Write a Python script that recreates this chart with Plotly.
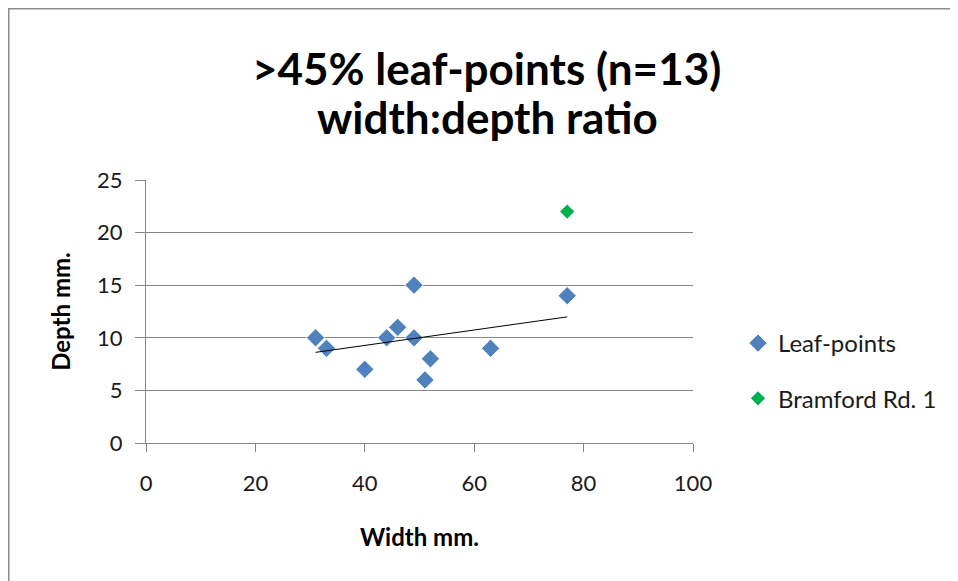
import numpy as np
import plotly.graph_objects as go

leaf_width = [31, 33, 40, 44, 46, 49, 49, 51, 52, 63, 77]
leaf_depth = [10, 9, 7, 10, 11, 15, 10, 6, 8, 9, 14]
bram_width = [77]
bram_depth = [22]
x_ticks = [0, 20, 40, 60, 80, 100]
y_ticks = [0, 5, 10, 15, 20, 25]
title_lines = [">45% leaf-points (n=13)", "width:depth ratio"]

slope, intercept = np.polyfit(leaf_width, leaf_depth, 1)
tx = [min(leaf_width), max(leaf_width)]
ty = [slope * v + intercept for v in tx]

FONT = "Lato, Open Sans, sans-serif"

fig = go.Figure()
fig.add_trace(go.Scatter(x=leaf_width, y=leaf_depth, mode="markers", name="Leaf-points",
                         legendgroup="a",
                         marker=dict(symbol="diamond", size=14, color="#4F81BD",
                                     line=dict(width=0.8, color="#ffffff"))))
fig.add_trace(go.Scatter(x=bram_width, y=bram_depth, mode="markers", name="Bramford Rd. 1",
                         legendgroup="b",
                         marker=dict(symbol="diamond", size=11, color="#00B050")))
fig.add_trace(go.Scatter(x=tx, y=ty, mode="lines", showlegend=False,
                         line=dict(color="#000000", width=1)))

W, H = 950, 573
L, T = 138, 172
x1p, y1p = 685, 435
pw, ph = x1p - L, y1p - T
R, B = W - x1p, H - y1p


def px(x):
    return (x - L) / pw


def py(y):
    return (y1p - y) / ph


fig.update_layout(
    width=W, height=H,
    margin=dict(l=L, r=R, t=T, b=B),
    paper_bgcolor="white", plot_bgcolor="white",
    font=dict(family=FONT, size=22, color="#000000"),
    showlegend=True,
    legend=dict(x=px(730), y=py(313), xanchor="left", yanchor="top",
                traceorder="grouped", tracegroupgap=21,
                font=dict(family=FONT, size=24, color="#1a1a1a"), bgcolor="rgba(0,0,0,0)"),
    xaxis=dict(range=[0, 100], tickvals=x_ticks, showgrid=False, zeroline=False,
               showline=True, linecolor="#868686", linewidth=1,
               ticks="outside", ticklen=8, tickcolor="#868686",
               ticklabelstandoff=13,
               tickfont=dict(family=FONT, size=22, color="#1a1a1a"),
               title=dict(text="<b>Width mm.</b>", standoff=33,
                          font=dict(family=FONT, size=24))),
    yaxis=dict(range=[0, 25], tickvals=y_ticks, showgrid=True, gridcolor="#868686",
               gridwidth=1, zeroline=False,
               showline=True, linecolor="#868686", linewidth=1,
               ticks="outside", ticklen=10, tickcolor="#868686",
               ticklabelstandoff=8,
               tickfont=dict(family=FONT, size=22, color="#1a1a1a"),
               title=dict(text="<b>Depth mm.</b>", standoff=19,
                          font=dict(family=FONT, size=24))),
)

fig.add_annotation(text="<b>%s</b>" % title_lines[0], xref="paper", yref="paper",
                   x=px(478), y=py(60), xanchor="center", yanchor="middle", showarrow=False,
                   font=dict(family=FONT, size=44, color="#000000"))
fig.add_annotation(text="<b>%s</b>" % title_lines[1], xref="paper", yref="paper",
                   x=px(479), y=py(109), xanchor="center", yanchor="middle", showarrow=False,
                   font=dict(family=FONT, size=44, color="#000000"))

fig.add_shape(type="line", xref="paper", yref="paper",
              x0=px(0), x1=px(0), y0=py(H + 20), y1=py(0),
              line=dict(color="#8C8C8C", width=3))
fig.add_shape(type="line", xref="paper", yref="paper",
              x0=px(0), x1=px(W + 20), y0=py(0), y1=py(0),
              line=dict(color="#8C8C8C", width=3))

fig.write_html("out.html")
